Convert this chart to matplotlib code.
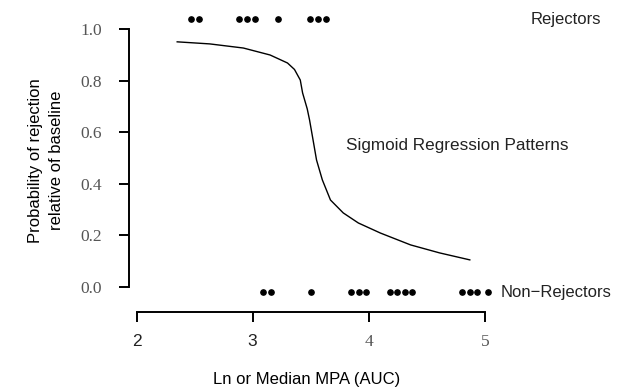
import numpy as np
import matplotlib
matplotlib.use("Agg")
import matplotlib.pyplot as plt

# dots along the top (rejectors) and bottom (non-rejectors)
rej_x = [2.47, 2.54, 2.88, 2.95, 3.02, 3.22, 3.49, 3.56, 3.63]
rej_y = 1.037
non_x = [3.09, 3.16, 3.50, 3.85, 3.92, 3.98, 4.18, 4.24, 4.31, 4.37,
         4.80, 4.87, 4.93, 5.03]
non_y = -0.021

# fitted sigmoid curve
curve_x = [2.35, 2.63, 2.92, 3.15, 3.30, 3.36, 3.41, 3.43, 3.47, 3.49,
           3.52, 3.55, 3.60, 3.67, 3.78, 3.91, 4.10, 4.36, 4.61, 4.87]
curve_y = [0.950, 0.942, 0.926, 0.899, 0.868, 0.843, 0.802, 0.752, 0.690,
           0.647, 0.570, 0.492, 0.415, 0.337, 0.287, 0.248, 0.209, 0.163,
           0.132, 0.105]

xticks = [2, 3, 4, 5]
yticks = [0.0, 0.2, 0.4, 0.6, 0.8, 1.0]
ytick_labels = ["0.0", "0.2", "0.4", "0.6", "0.8", "1.0"]

sans = "Liberation Sans"
serif = "Liberation Serif"

fig = plt.figure(figsize=(6.24, 3.89), dpi=100)
ax = fig.add_axes([129 / 624, 77 / 389, 371 / 624, 297 / 389])

ax.plot(curve_x, curve_y, color="black", lw=1.0)
ax.plot(rej_x, [rej_y] * len(rej_x), "o", color="black", ms=3.8, clip_on=False)
ax.plot(non_x, [non_y] * len(non_x), "o", color="black", ms=3.8, clip_on=False)

ax.set_xlim(1.935, 5.13)
ax.set_ylim(-0.097, 1.054)

for s in ["top", "right"]:
    ax.spines[s].set_visible(False)
ax.spines["left"].set_bounds(0, 1)
ax.spines["bottom"].set_bounds(2, 5)
ax.spines["left"].set_linewidth(1.4)
ax.spines["bottom"].set_linewidth(1.4)

ax.set_xticks(xticks)
ax.set_xticklabels([str(t) for t in xticks])
ax.set_yticks(yticks)
ax.set_yticklabels(ytick_labels)
ax.tick_params(axis="both", direction="out", length=7.5, width=1.4)
ax.tick_params(axis="x", pad=8)
ax.tick_params(axis="y", pad=12)

for i, lab in enumerate(ax.get_xticklabels()):
    lab.set_fontfamily(sans if i < 2 else serif)
    lab.set_fontsize(12.5)
    lab.set_color("#222222" if i < 2 else "#555555")
for lab in ax.get_yticklabels():
    lab.set_fontfamily(serif)
    lab.set_fontsize(12.5)
    lab.set_color("#555555")

ax.set_xlabel("Ln or Median MPA (AUC)", fontfamily=sans, fontsize=12,
              va="center")
ax.xaxis.set_label_coords(0.48, -0.2256)
ax.set_ylabel("Probability of rejection\nrelative of baseline",
              fontfamily=sans, fontsize=12, linespacing=1.45, va="center")
ax.yaxis.set_label_coords(-0.2237, 0.51)

ax.text(5.39, rej_y, "Rejectors", fontfamily=sans, fontsize=12,
        ha="left", va="center", color="#222222")
ax.text(5.138, non_y, "Non\u2212Rejectors", fontfamily=sans, fontsize=12,
        ha="left", va="center", color="#222222")
ax.text(4.76, 0.55, "Sigmoid Regression Patterns", fontfamily=sans,
        fontsize=12.3, ha="center", va="center", color="#222222")

fig.savefig("out.png", dpi=100)
